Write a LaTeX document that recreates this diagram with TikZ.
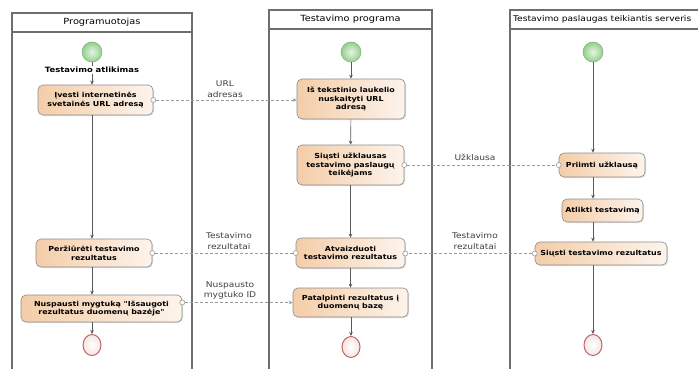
\documentclass[tikz,border=0pt]{standalone}
\usepackage{fontspec}
\setmainfont{DejaVu Sans}
\newfontfamily\widefnt[FakeStretch=1.15]{DejaVu Sans}
\usetikzlibrary{arrows.meta,shadows,shapes.geometric}
\definecolor{lanec}{HTML}{6E6E6E}
\definecolor{actb}{HTML}{8C8C8C}
\definecolor{actL}{HTML}{F4CDA8}
\definecolor{actR}{HTML}{FDF4EC}
\definecolor{flowc}{HTML}{5A5A5A}
\definecolor{objc}{HTML}{9A9A9A}
\definecolor{startL}{HTML}{E6F5E2}
\definecolor{startD}{HTML}{93CF8C}
\definecolor{startB}{HTML}{86B483}
\definecolor{endB}{HTML}{C0666A}
\definecolor{endF}{HTML}{F2E6E2}
\tikzset{
  lanel/.style={draw=lanec, line width=1.1pt},
  lanehead/.style={font=\widefnt\fontsize{8.5}{9}\selectfont, inner sep=0pt},
  act/.style={draw=actb, line width=0.6pt, rounded corners=5pt, left color=actL, right color=actR,
    font=\widefnt\fontsize{6.9}{8.6}\selectfont\bfseries, align=center, inner sep=1pt,
    drop shadow={shadow xshift=1pt, shadow yshift=-1pt, opacity=0.25}},
  startnode/.style={circle, minimum size=20pt, inner sep=0pt, draw=startB, line width=0.6pt,
    inner color=startL, outer color=startD},
  endnode/.style={ellipse, minimum width=18pt, minimum height=21pt, inner sep=0pt, draw=endB, line width=1pt,
    inner color=white, outer color=endF},
  flow/.style={draw=flowc, line width=0.6pt, -{Stealth[length=4pt,width=3.5pt]}},
  flowplain/.style={draw=flowc, line width=0.6pt},
  oflow/.style={draw=objc, line width=0.6pt, dash pattern=on 3pt off 2pt},
  oarrow/.style={oflow, -{Stealth[length=4pt,width=3.5pt]}},
  objpin/.style={circle, draw=objc, fill=white, minimum size=5pt, inner sep=0pt, line width=0.6pt},
  olab/.style={font=\widefnt\fontsize{7.9}{10.5}\selectfont, text=black!75, align=center, inner sep=0pt},
}
\begin{document}
\begin{tikzpicture}[x=1pt,y=-1pt]
\useasboundingbox (0,0) rectangle (698,369);
\clip (0,0) rectangle (698,369);
\fill[white] (0,0) rectangle (698,369);

% swimlanes
\draw[lanel] (12,375) -- (12,13) -- (192,13) -- (192,375);
\draw[lanel] (12,32) -- (192,32);
\node[lanehead] (h1) at (102,22.5) {Programuotojas};
\draw[lanel] (269,375) -- (269,10) -- (432,10) -- (432,375);
\draw[lanel] (269,29) -- (432,29);
\node[lanehead] (h2) at (350.5,19.5) {Testavimo programa};
\draw[lanel] (510,375) -- (510,10) -- (705,10);
\draw[lanel] (510,29) -- (705,29);
\node[lanehead, font=\widefnt\fontsize{7.9}{9}\selectfont, anchor=west] (h3) at (513,19.5) {Testavimo paslaugas teikiantis serveris};

% left lane
\node[startnode] (s1) at (92,52) {};
\node[font=\widefnt\fontsize{7.3}{8}\selectfont\bfseries, inner sep=1pt] (ta) at (92,70) {Testavimo atlikimas};
\node[act, minimum width=115pt, minimum height=30pt] (a1) at (95.5,100) {Įvesti internetinės\\svetainės URL adresą};
\node[act, minimum width=116pt, minimum height=28pt] (pe) at (94,253) {Peržiūrėti testavimo\\rezultatus};
\node[act, minimum width=161pt, minimum height=27pt] (nus) at (101.5,308.5) {Nuspausti mygtuką "Išsaugoti\\rezultatus duomenų bazėje"};
\node[endnode] (e1) at (92,345) {};

% middle lane
\node[startnode] (s2) at (351,52) {};
\node[act, minimum width=108pt, minimum height=40pt] (m1) at (351,99) {Iš tekstinio laukelio\\nuskaityti URL\\adresą};
\node[act, minimum width=107pt, minimum height=40pt] (m2) at (350.5,165) {Siųsti užklausas\\testavimo paslaugų\\teikėjams};
\node[act, minimum width=109pt, minimum height=30pt] (at) at (350.5,253) {Atvaizduoti\\testavimo rezultatus};
\node[act, minimum width=115pt, minimum height=29pt] (pat) at (350.5,302.5) {Patalpinti rezultatus į\\duomenų bazę};
\node[endnode] (e2) at (351,347) {};

% right lane
\node[startnode] (s3) at (593,52) {};
\node[act, minimum width=86pt, minimum height=24pt] (pr) at (602,165) {Priimti užklausą};
\node[act, minimum width=81pt, minimum height=23pt] (atl) at (602.5,210.5) {Atlikti testavimą};
\node[act, minimum width=132pt, minimum height=23pt] (si) at (601,253.5) {Siųsti testavimo rezultatus};
\node[endnode] (e3) at (593,345) {};

% control flows
\draw[flowplain] (s1) -- (ta);
\draw[flow] (ta) -- (ta |- a1.north);
\draw[flow] (a1.south -| s1) -- (pe.north -| s1);
\draw[flow] (pe.south -| s1) -- (nus.north -| s1);
\draw[flow] (nus.south -| s1) -- (e1);

\draw[flow] (s2) -- (m1);
\draw[flow] (m1) -- (m2);
\draw[flow] (m2) -- (at);
\draw[flow] (at) -- (pat);
\draw[flow] (pat.south -| s2) -- (e2);

\draw[flow] (s3) -- (s3 |- pr.north);
\draw[flow] (pr.south -| s3) -- (atl.north -| s3);
\draw[flow] (atl.south -| s3) -- (si.north -| s3);
\draw[flow] (si.south -| s3) -- (e3);

% object flows
\node[objpin] (p1) at (a1.east) {};
\draw[oarrow] (p1) -- (p1 -| m1.west);
\node[olab] (l1) at (225,89) {URL\\adresas};

\node[objpin] (p2a) at (m2.east) {};
\node[objpin] (p2b) at (m2.east -| pr.west) {};
\draw[oflow] (p2a) -- (p2b);
\node[olab] (l2) at (475,157) {Užklausa};

\node[objpin] (p3a) at (si.west) {};
\node[objpin] (p3b) at (si.west -| at.east) {};
\draw[oflow] (p3a) -- (p3b);
\node[olab] (l3) at (475,241) {Testavimo\\rezultatai};

\node[objpin] (p4a) at (at.west) {};
\node[objpin] (p4b) at (at.west -| pe.east) {};
\draw[oflow] (p4a) -- (p4b);
\node[olab] (l4) at (229,241) {Testavimo\\rezultatai};

\node[objpin] (p5) at (nus.east |- pat.west) {};
\draw[oarrow] (p5) -- (pat.west);
\node[olab] (l5) at (230,290.5) {Nuspausto\\mygtuko ID};
\end{tikzpicture}
\end{document}
